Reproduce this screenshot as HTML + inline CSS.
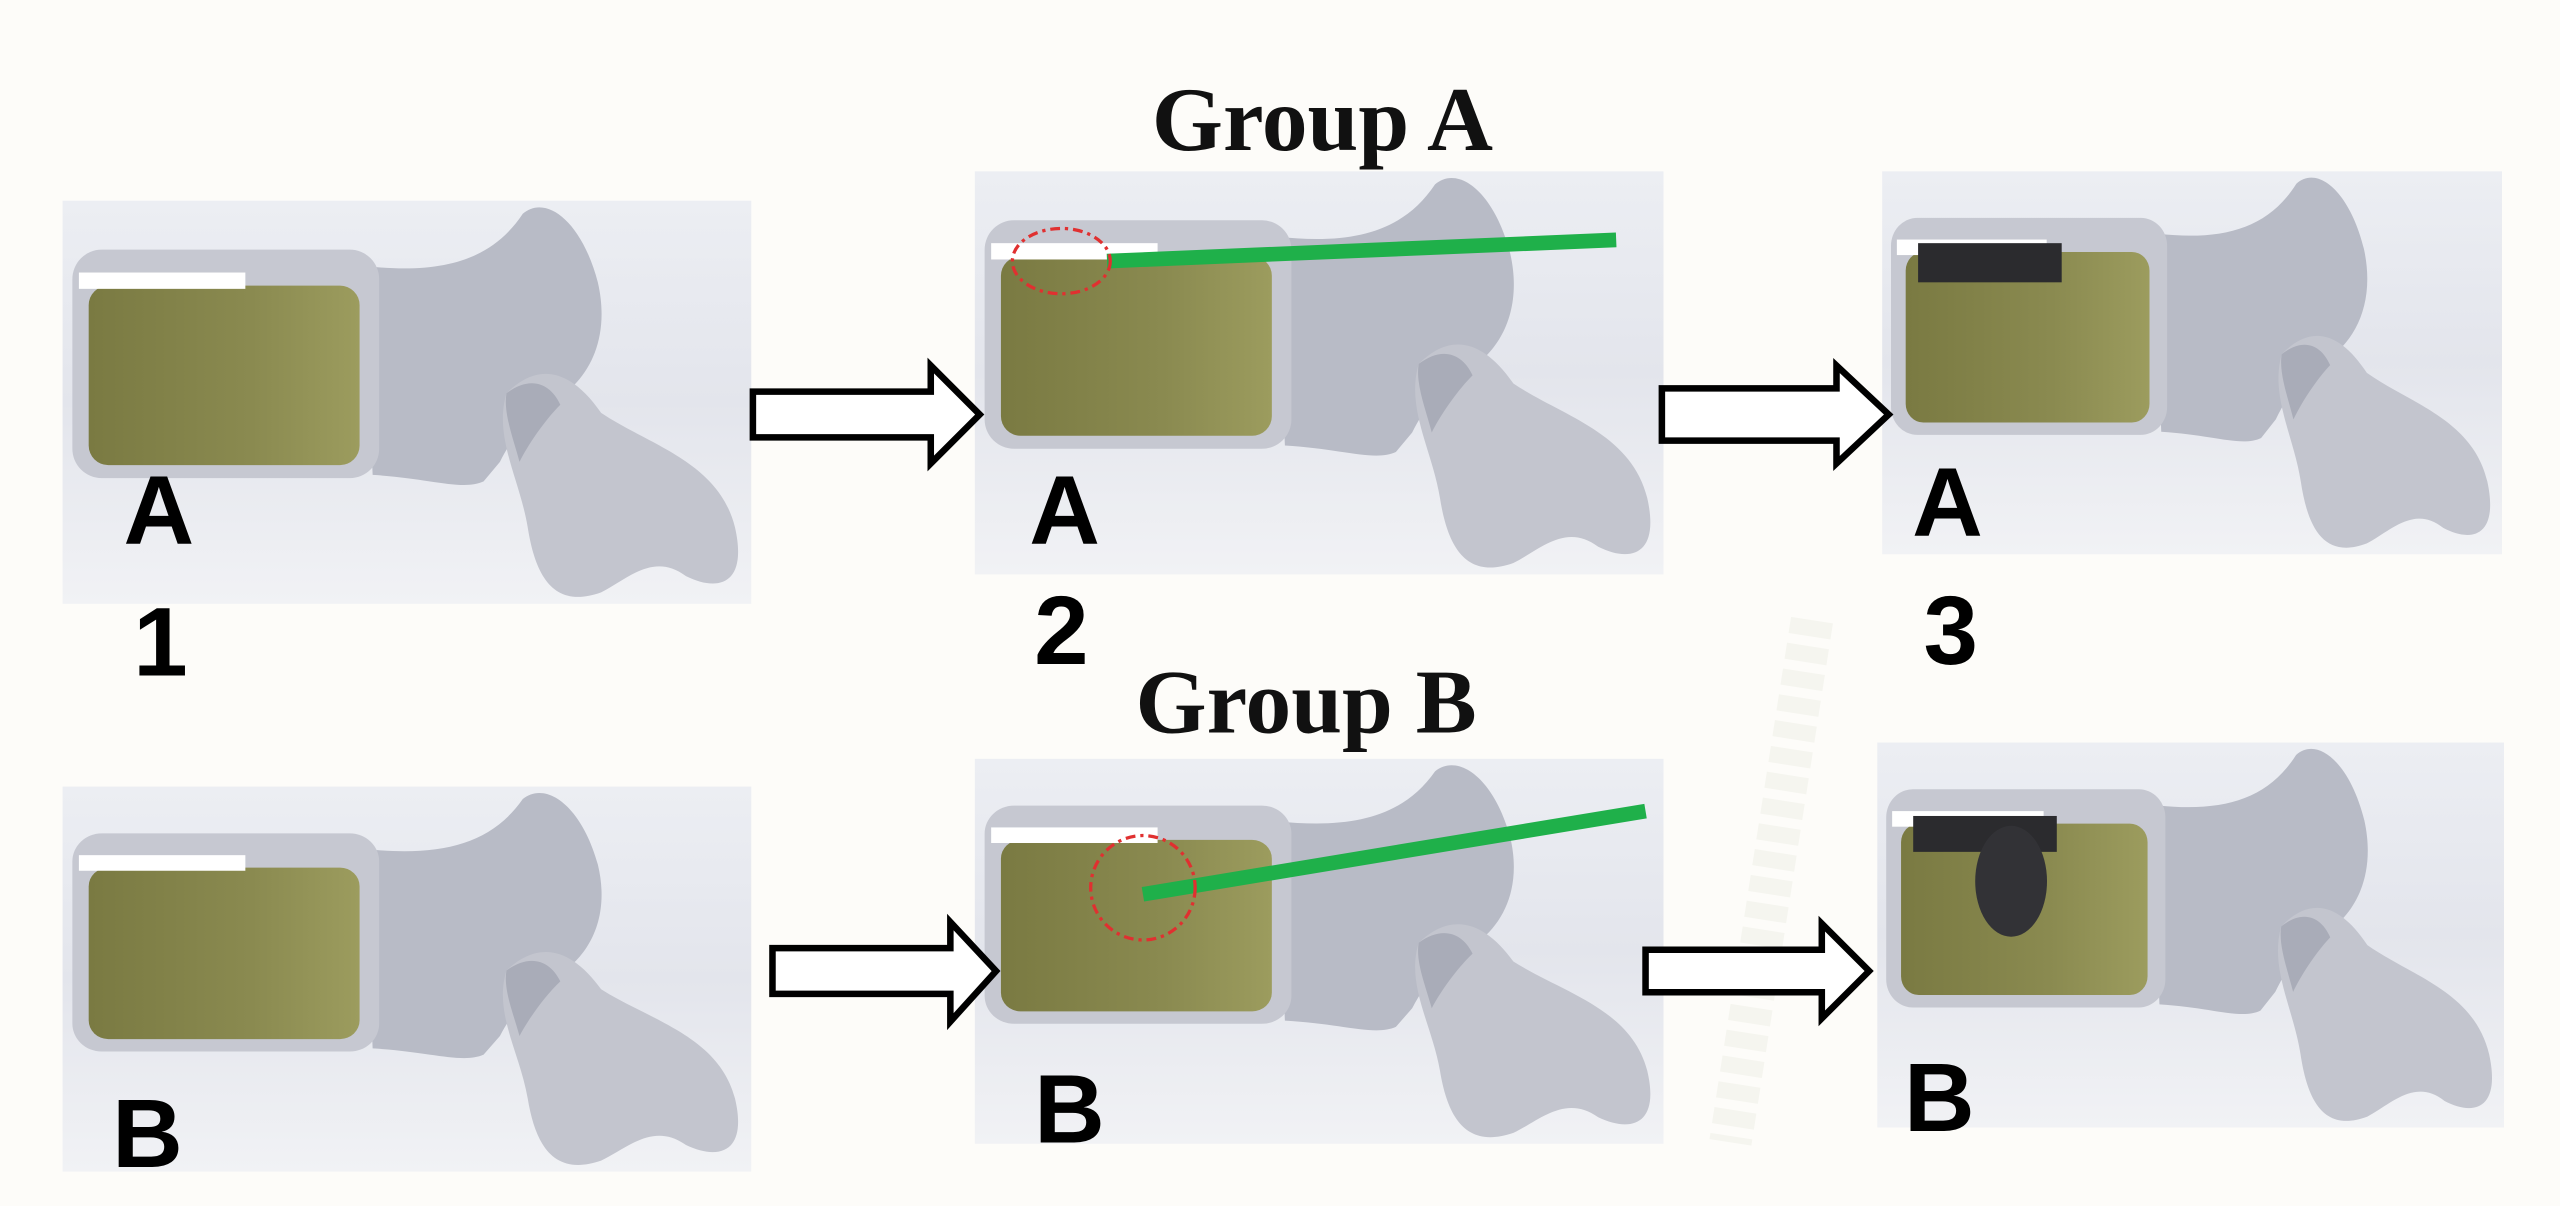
<!DOCTYPE html>
<html><head><meta charset="utf-8"><style>
html,body{margin:0;padding:0;background:#fdfcf9;}
svg{display:block;}
</style></head><body>
<svg width="2560" height="1206" viewBox="0 0 1568 739" xmlns="http://www.w3.org/2000/svg">
<defs>
<linearGradient id="bg" x1="0" y1="0" x2="0" y2="1"><stop offset="0" stop-color="#eceef3"/><stop offset="0.5" stop-color="#e3e5ec"/><stop offset="1" stop-color="#f1f2f5"/></linearGradient>
<linearGradient id="yl" x1="0" y1="0" x2="1" y2="0"><stop offset="0" stop-color="#7a7a42"/><stop offset="0.6" stop-color="#8a8a50"/><stop offset="1" stop-color="#9c9c5e"/></linearGradient>
<g id="vert">
<rect x="0" y="0" width="422" height="247" fill="url(#bg)"/>
<path d="M185,40 C230,45 262,38 282,8 C296,-4 318,12 328,50 C336,85 322,110 302,122 C288,132 278,140 268,160 L258,172 C245,178 225,170 190,168 Z" fill="#b8bbc6"/>
<path d="M272,118 C292,98 312,104 330,130 C360,150 402,160 412,200 C420,235 402,240 382,230 C362,215 346,232 330,240 C302,250 290,232 285,200 C280,170 264,145 272,118 Z" fill="#c3c5ce"/>
<path d="M272,118 C285,108 298,110 305,125 C295,135 285,150 280,160 C276,145 270,130 272,118 Z" fill="#a9acb8"/>
<rect x="6" y="30" width="188" height="140" rx="18" fill="#c6c8d1"/>
<rect x="16" y="52" width="166" height="110" rx="12" fill="url(#yl)"/>
<rect x="10" y="44" width="102" height="10" fill="#ffffff"/>
</g>
</defs>
<rect width="1568" height="739" fill="#fdfcf9"/>
<path d="M1110,380 L1060,700" stroke="#f1f2ea" stroke-width="26" stroke-dasharray="10 6" opacity="0.6"/>

<use href="#vert" transform="translate(38,123)"/>
<use href="#vert" transform="translate(597,105)"/>
<use href="#vert" transform="translate(1153,105) scale(0.9,0.95)"/>
<use href="#vert" transform="translate(38,482) scale(1,0.955)"/>
<use href="#vert" transform="translate(597,465) scale(1,0.955)"/>
<use href="#vert" transform="translate(1150,455) scale(0.91,0.955)"/>

<rect x="1175" y="149" width="88" height="24" fill="#2b2b2e"/>
<rect x="1172" y="500" width="88" height="22" fill="#2b2b2e"/>
<ellipse cx="1232" cy="540" rx="22" ry="34" fill="#323236"/>

<line x1="678" y1="160" x2="990" y2="147" stroke="#1fb04a" stroke-width="9"/>
<line x1="700" y1="548" x2="1008" y2="497" stroke="#1fb04a" stroke-width="9"/>
<ellipse cx="650" cy="160" rx="30" ry="20" fill="none" stroke="#e03030" stroke-width="2" stroke-dasharray="6 3 2 3"/>
<circle cx="700" cy="544" r="32" fill="none" stroke="#e03030" stroke-width="2" stroke-dasharray="6 3 2 3"/>

<g fill="#fff" stroke="#000" stroke-width="4">
<path d="M461,240 L570,240 L570,224 L600,254 L570,284 L570,268 L461,268 Z"/>
<path d="M1018,238 L1125,238 L1125,224 L1157,254 L1125,284 L1125,270 L1018,270 Z"/>
<path d="M473,581 L582,581 L582,565 L610,595 L582,626 L582,609 L473,609 Z"/>
<path d="M1008,582 L1116,582 L1116,566 L1145,595 L1116,624 L1116,608 L1008,608 Z"/>
</g>

<g font-family="'Liberation Serif',serif" font-weight="bold" font-size="56" text-anchor="middle" fill="#111">
<text x="810" y="92">Group A</text>
<text x="800" y="449">Group B</text>
</g>
<g font-family="'Liberation Sans',sans-serif" font-weight="bold" font-size="60" fill="#000" text-anchor="middle">
<text x="97" y="333">A</text>
<text x="652" y="333">A</text>
<text x="1193" y="328">A</text>
<text x="90" y="715">B</text>
<text x="655" y="700">B</text>
<text x="1188" y="693">B</text>
<text x="98" y="414">1</text>
<text x="650" y="407">2</text>
<text x="1195" y="407">3</text>
</g>
</svg>
</body></html>
